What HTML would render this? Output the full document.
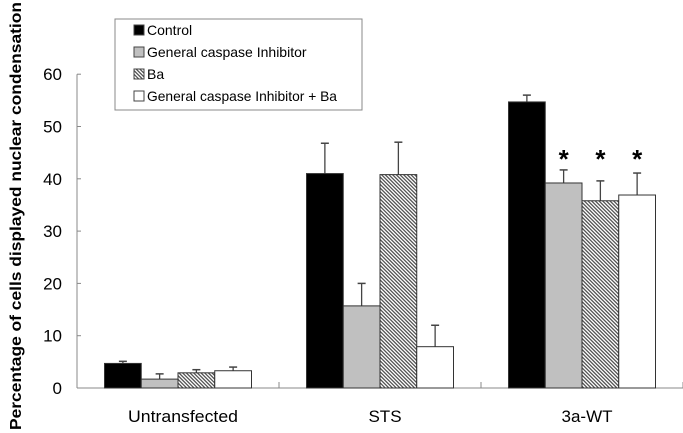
<!DOCTYPE html>
<html><head><meta charset="utf-8"><style>
body{margin:0;background:#fff;}
svg{display:block;font-family:"Liberation Sans",Arial,sans-serif;}
</style></head><body>
<svg id="chart" width="683" height="433" viewBox="0 0 683 433">
<defs>
<pattern id="hatch" patternUnits="userSpaceOnUse" width="2.6" height="2.6" patternTransform="rotate(-45)">
<rect width="2.6" height="2.6" fill="#fff"/><rect width="1.3" height="2.6" fill="#555"/>
</pattern>
</defs>
<text transform="translate(21,216) rotate(-90)" text-anchor="middle" font-size="16" font-weight="bold" textLength="428" lengthAdjust="spacingAndGlyphs">Percentage of cells displayed nuclear condensation</text>
<g id="axes"></g>
<g id="bars"></g>
<g>
<rect x="115" y="19" width="247" height="91" fill="#fff" stroke="#888" stroke-width="1"/>
<rect x="134" y="25" width="10" height="10" fill="#000" stroke="#444"/>
<text x="147" y="35" font-size="14">Control</text>
<rect x="134" y="47" width="10" height="10" fill="#c0c0c0" stroke="#444"/>
<text x="147" y="57" font-size="14">General caspase Inhibitor</text>
<rect x="134" y="69" width="10" height="10" fill="url(#hatch)" stroke="#444"/>
<text x="147" y="79" font-size="14">Ba</text>
<rect x="134" y="91" width="10" height="10" fill="#fff" stroke="#444"/>
<text x="147" y="101" font-size="14" textLength="190" lengthAdjust="spacingAndGlyphs">General caspase Inhibitor + Ba</text>
</g>
</svg>
<script>
const categories=["Untransfected","STS","3a-WT"];
const controlVals=[4.7,41,54.7];
const controlErr=[0.4,5.8,1.3];
const inhibitorVals=[1.7,15.7,39.2];
const inhibitorErr=[1.0,4.3,2.5];
const baVals=[2.9,40.8,35.8];
const baErr=[0.6,6.2,3.8];
const inhBaVals=[3.3,7.9,36.9];
const inhBaErr=[0.7,4.1,4.2];
const stars=[[],[],[1,2,3]];
const yTicks=[0,10,20,30,40,50,60];

const NS="http://www.w3.org/2000/svg";
const x0=77,y0=388,pxPer=5.23,groupW=202,barW=36.75;
const y=v=>y0-v*pxPer;
function mk(tag,attrs,parent){const e=document.createElementNS(NS,tag);for(const k in attrs)e.setAttribute(k,attrs[k]);parent.appendChild(e);return e;}
const axes=document.getElementById('axes'),bars=document.getElementById('bars');
const ya=mk('line',{x1:x0,y1:y(60),x2:x0,y2:y0,stroke:'#888','stroke-width':1},axes);


const xa=mk('line',{x1:x0,y1:y0,x2:683,y2:y0,stroke:'#888','stroke-width':1},axes);


yTicks.forEach(t=>{
 mk('line',{x1:x0,y1:y(t),x2:x0+4,y2:y(t),stroke:'#888'},axes);
 const tx=mk('text',{x:x0-15,y:y(t)+6,'text-anchor':'end','font-size':17},axes);
 tx.textContent=t;
 
 
});
categories.forEach((c,i)=>{
 const gx=x0+groupW*(i+1);
 mk('line',{x1:gx,y1:y0,x2:gx,y2:y0-6,stroke:'#888'},axes);
 const tx=mk('text',{x:x0+groupW*i+groupW/2+5,y:422,'text-anchor':'middle','font-size':17},axes);
 tx.textContent=c;
 if(c==="Untransfected"){tx.setAttribute('textLength','110');tx.setAttribute('lengthAdjust','spacingAndGlyphs');}
 
 
});
const series=[[controlVals,controlErr,'#000'],[inhibitorVals,inhibitorErr,'#c0c0c0'],[baVals,baErr,'url(#hatch)'],[inhBaVals,inhBaErr,'#fff']];
categories.forEach((c,i)=>{
 const cx=x0+groupW*i+groupW/2;
 let topErr=0;
 series.forEach((s,j)=>{if(stars[i].includes(j))topErr=Math.max(topErr,s[0][i]+s[1][i]);});
 series.forEach((s,j)=>{
  const v=s[0][i],e=s[1][i];
  const bx=cx-2*barW+j*barW;
  const ex=bx+barW/2;
  const el=mk('line',{x1:ex,y1:y(v),x2:ex,y2:y(v+e),stroke:'#444','stroke-width':1.3},bars);
  
  
  mk('line',{x1:ex-4,y1:y(v+e),x2:ex+4,y2:y(v+e),stroke:'#444','stroke-width':1.5},bars);
  const r=mk('rect',{x:bx,y:y(v),width:barW,height:v*pxPer,fill:s[2],stroke:'#333','stroke-width':1},bars);
  
  
  if(stars[i].includes(j)){
   const st=mk('text',{x:ex,y:y(topErr)-2,'text-anchor':'middle','font-size':26,'font-weight':'bold'},bars);
   st.textContent='*';
   
   
  }
 });
});
</script>
</body></html>
